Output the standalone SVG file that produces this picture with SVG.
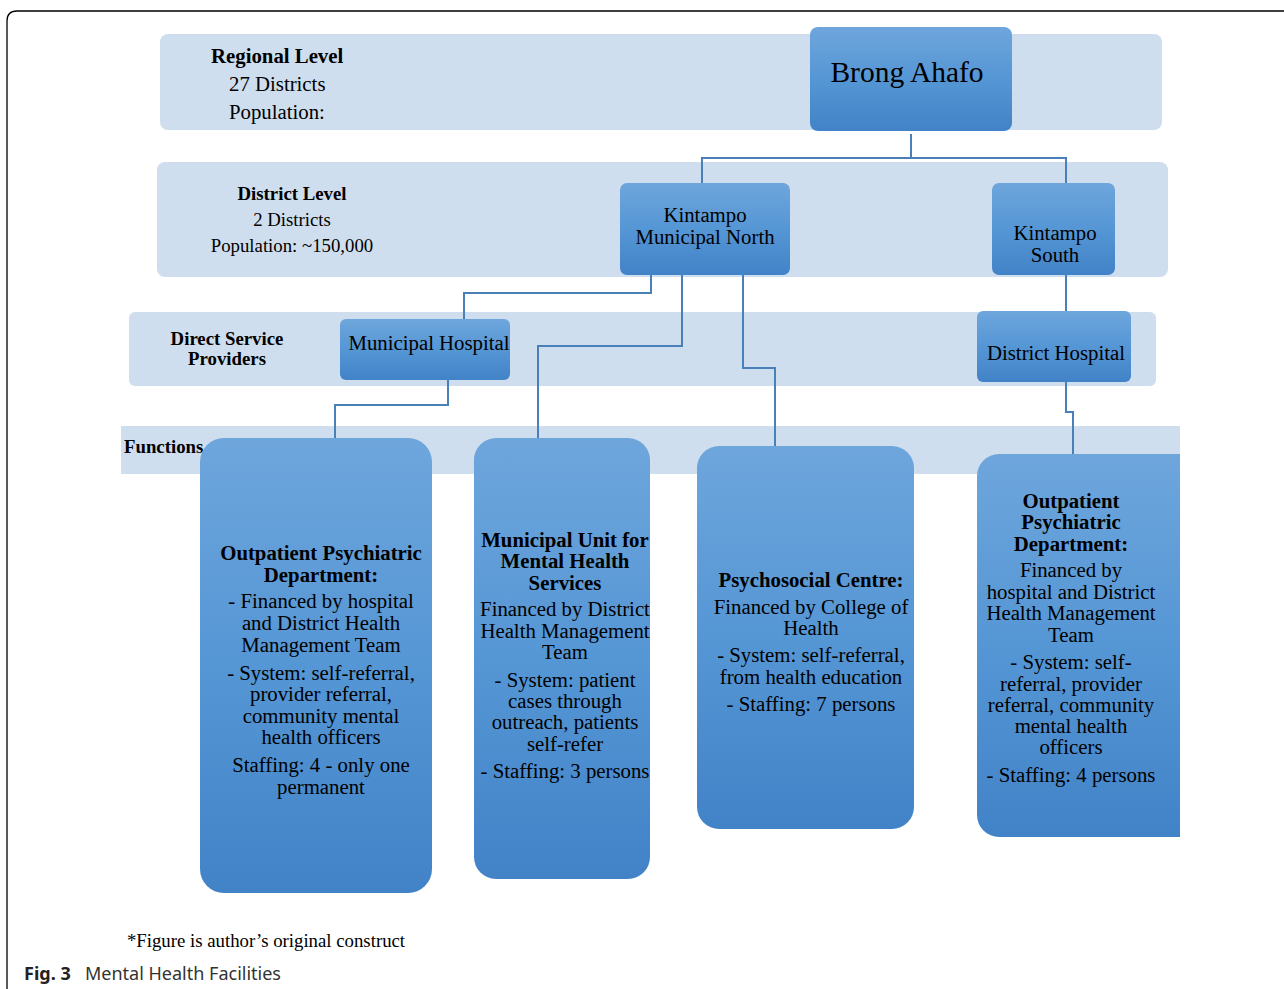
<svg xmlns="http://www.w3.org/2000/svg" width="1284" height="989" viewBox="0 0 1284 989">
<defs>
<linearGradient id="g" x1="0" y1="0" x2="0" y2="1">
<stop offset="0" stop-color="#6ea6dc"/>
<stop offset="0.5" stop-color="#5596d5"/>
<stop offset="1" stop-color="#4283c8"/>
</linearGradient>
<clipPath id="cut"><rect x="0" y="0" width="1180" height="989"/></clipPath>
</defs>
<style>
.band{fill:#cfdeee}
.box{fill:url(#g)}
.t{font-family:"Liberation Serif","Times New Roman",serif;fill:#000;text-anchor:middle}
.st{text-anchor:start}
.b{font-weight:bold}
.s21{font-size:20.8px}
.s19{font-size:18.8px}
.conn{fill:none;stroke:#4a80b8;stroke-width:2}
</style>
<rect width="1284" height="989" fill="#fff"/>
<path d="M7 989 V21 Q7 11 17 11 H1284" fill="none" stroke="#000" stroke-width="1.3"/>

<g id="bands">
<rect class="band" x="160" y="34" width="1002" height="96" rx="8"/>
<rect class="band" x="157" y="162" width="1011" height="115" rx="8"/>
<rect class="band" x="129" y="312" width="1027" height="74" rx="6"/>
<rect class="band" x="121" y="426" width="1059" height="48"/>
</g>

<g id="level-labels">
<text class="t b s21 st" x="211" y="63">Regional Level</text>
<text class="t s21 st" x="229" y="91">27 Districts</text>
<text class="t s21 st" x="229" y="119">Population:</text>
<text class="t b s19" x="292" y="200">District Level</text>
<text class="t s19" x="292" y="226">2 Districts</text>
<text class="t s19" x="292" y="252">Population: ~150,000</text>
<text class="t b s19" x="227" y="345">Direct Service</text>
<text class="t b s19" x="227" y="365">Providers</text>
<text class="t b s19 st" x="124" y="453">Functions</text>
</g>

<g id="connectors">
<path class="conn" d="M911 134 V158 M702 183 V158 H1066 V183"/>
<path class="conn" d="M651 275 V293 H464 V319"/>
<path class="conn" d="M682 275 V346 H538 V438"/>
<path class="conn" d="M743 275 V368 H775 V446"/>
<path class="conn" d="M1066 275 V311"/>
<path class="conn" d="M1066 382 V412 H1073 V454"/>
<path class="conn" d="M448 380 V405 H335 V438"/>
</g>

<g id="brong-ahafo">
<rect class="box" x="810" y="27" width="202" height="104" rx="8"/>
<text class="t" x="907" y="82" font-size="29.5">Brong Ahafo</text>
</g>

<g id="kintampo-north">
<rect class="box" x="620" y="183" width="170" height="92" rx="7"/>
<text class="t s21" x="705" y="222">Kintampo</text>
<text class="t s21" x="705" y="244">Municipal North</text>
</g>

<g id="kintampo-south">
<rect class="box" x="992" y="183" width="123" height="92" rx="7"/>
<text class="t s21" x="1055" y="240">Kintampo</text>
<text class="t s21" x="1055" y="262">South</text>
</g>

<g id="municipal-hospital">
<rect class="box" x="340" y="319" width="170" height="61" rx="6"/>
<text class="t s21" x="429" y="350">Municipal Hospital</text>
</g>

<g id="district-hospital">
<rect class="box" x="977" y="311" width="154" height="71" rx="6"/>
<text class="t s21" x="1056" y="360">District Hospital</text>
</g>

<g id="f1">
<rect class="box" x="200" y="438" width="232" height="455" rx="24"/>
<text class="t b s21" x="321" y="560">Outpatient Psychiatric</text>
<text class="t b s21" x="321" y="582">Department:</text>
<text class="t s21" x="321" y="608">- Financed by hospital</text>
<text class="t s21" x="321" y="630">and District Health</text>
<text class="t s21" x="321" y="652">Management Team</text>
<text class="t s21" x="321" y="680">- System: self-referral,</text>
<text class="t s21" x="321" y="701">provider referral,</text>
<text class="t s21" x="321" y="723">community mental</text>
<text class="t s21" x="321" y="744">health officers</text>
<text class="t s21" x="321" y="772">Staffing: 4 - only one</text>
<text class="t s21" x="321" y="794">permanent</text>
</g>

<g id="f2">
<rect class="box" x="474" y="438" width="176" height="441" rx="22"/>
<text class="t b s21" x="565" y="547">Municipal Unit for</text>
<text class="t b s21" x="565" y="568">Mental Health</text>
<text class="t b s21" x="565" y="590">Services</text>
<text class="t s21" x="565" y="616">Financed by District</text>
<text class="t s21" x="565" y="638">Health Management</text>
<text class="t s21" x="565" y="659">Team</text>
<text class="t s21" x="565" y="687">- System: patient</text>
<text class="t s21" x="565" y="708">cases through</text>
<text class="t s21" x="565" y="729">outreach, patients</text>
<text class="t s21" x="565" y="751">self-refer</text>
<text class="t s21" x="565" y="778">- Staffing: 3 persons</text>
</g>

<g id="f3">
<rect class="box" x="697" y="446" width="217" height="383" rx="22"/>
<text class="t b s21" x="811" y="587">Psychosocial Centre:</text>
<text class="t s21" x="811" y="614">Financed by College of</text>
<text class="t s21" x="811" y="635">Health</text>
<text class="t s21" x="811" y="662">- System: self-referral,</text>
<text class="t s21" x="811" y="684">from health education</text>
<text class="t s21" x="811" y="711">- Staffing: 7 persons</text>
</g>

<g id="f4" clip-path="url(#cut)">
<rect class="box" x="977" y="454" width="225" height="383" rx="22"/>
<text class="t b s21" x="1071" y="508">Outpatient</text>
<text class="t b s21" x="1071" y="529">Psychiatric</text>
<text class="t b s21" x="1071" y="551">Department:</text>
<text class="t s21" x="1071" y="577">Financed by</text>
<text class="t s21" x="1071" y="599">hospital and District</text>
<text class="t s21" x="1071" y="620">Health Management</text>
<text class="t s21" x="1071" y="642">Team</text>
<text class="t s21" x="1071" y="669">- System: self-</text>
<text class="t s21" x="1071" y="691">referral, provider</text>
<text class="t s21" x="1071" y="712">referral, community</text>
<text class="t s21" x="1071" y="733">mental health</text>
<text class="t s21" x="1071" y="754">officers</text>
<text class="t s21" x="1071" y="782">- Staffing: 4 persons</text>
</g>

<g id="caption">
<text class="t" x="266" y="947" font-size="18.8">*Figure is author’s original construct</text>
<text x="24" y="980" font-family="'Noto Sans','Open Sans',sans-serif" font-size="18" font-weight="bold" fill="#222">Fig. 3</text>
<text x="85" y="980" font-family="'Noto Sans','Open Sans',sans-serif" font-size="18" fill="#333">Mental Health Facilities</text>
</g>
</svg>
